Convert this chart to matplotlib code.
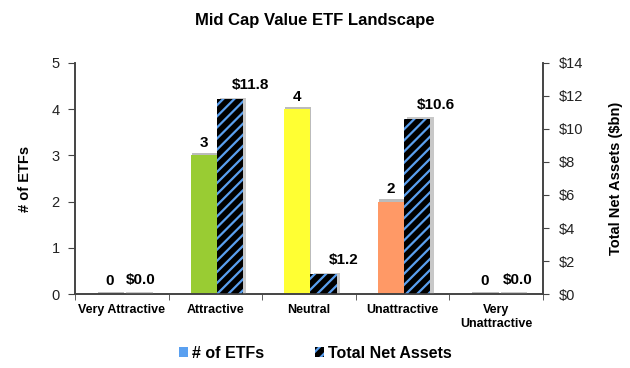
import numpy as np
import matplotlib.pyplot as plt
from matplotlib.patches import Patch

plt.rcParams['font.family'] = ['Liberation Sans', 'DejaVu Sans']
plt.rcParams['hatch.linewidth'] = 1.6

# data
categories = ['Very Attractive', 'Attractive', 'Neutral', 'Unattractive', 'Very\nUnattractive']
num_etfs = [0, 3, 4, 2, 0]
net_assets = [0.0, 11.8, 1.2, 10.6, 0.0]
bar_colors = ['#99CC33', '#99CC33', '#FFFF33', '#FF9966', '#99CC33']

fig = plt.figure(figsize=(6.3, 3.68), dpi=100)
ax = fig.add_axes([0.119, 0.201, 0.743, 0.628])
ax2 = ax.twinx()

x = np.arange(len(categories))
w = 0.28
off1, off2 = -0.125, 0.155

# count bars with a gray shadow strip on top
ax.bar(x + off1 + 0.01, np.array(num_etfs) + 0.05, w, color='#BBBBBB', zorder=1)
ax.bar(x + off1, num_etfs, w, color=bar_colors, zorder=2)

# asset bars (hatched) with gray shadow
ax2.bar(x + off2 + 0.035, np.array(net_assets) + 0.1, w, color='#C8C8C8', zorder=1)
ax2.bar(x + off2, net_assets, w, color='black', edgecolor='#5AA0F0',
        hatch='///', linewidth=0, zorder=2)

ax.set_xlim(-0.5, 4.5)
ax.set_ylim(0, 5)
ax2.set_ylim(0, 14)
ax.set_yticks(range(6))
ax2.set_yticks(range(0, 15, 2))
ax2.set_yticklabels(['$%d' % v for v in range(0, 15, 2)])

ax.set_xticks(x)
ax.set_xticklabels(categories, fontweight='bold', fontsize=9)
ax.set_xticks(np.arange(-0.5, 5, 1), minor=True)
ax.tick_params(axis='x', which='major', length=0, pad=7)
ax.tick_params(axis='x', which='minor', length=4, direction='out', color='#444444')
ax.tick_params(axis='y', labelsize=10.5, length=5, pad=6, color='#444444', colors='#222222')
ax2.tick_params(axis='y', labelsize=10.5, length=4, pad=7, color='#444444', colors='#222222')

for a in (ax, ax2):
    a.spines['top'].set_visible(False)
    for s in ('left', 'right', 'bottom'):
        a.spines[s].set_color('#444444')
        a.spines[s].set_linewidth(1.2)

ax.set_ylabel('# of ETFs', fontweight='bold', fontsize=10.5, labelpad=14)
ax2.set_ylabel('Total Net Assets ($bn)', fontweight='bold', fontsize=10.5, labelpad=19)
fig.suptitle('Mid Cap Value ETF Landscape', fontweight='bold', fontsize=12, y=0.965)

for i, v in enumerate(num_etfs):
    ax.text(x[i] + off1, v + 0.12, str(v), ha='center', va='bottom',
            fontweight='bold', fontsize=11, zorder=5)

label_shift = [0.05, 0.22, 0.22, 0.2, 0.07]
for i, v in enumerate(net_assets):
    ax2.text(x[i] + off2 + label_shift[i], v + 0.45, '$%.1f' % v, ha='center', va='bottom',
             fontweight='bold', fontsize=11, zorder=5)

# legend
handles = [Patch(facecolor='#5AA0F0', label='# of ETFs'),
           Patch(facecolor='black', edgecolor='#5AA0F0', hatch='///', linewidth=0,
                 label='Total Net Assets')]
fig.legend(handles=handles, loc='lower center', ncol=2, frameon=False,
           bbox_to_anchor=(0.5, -0.02), prop={'weight': 'bold', 'size': 11.5},
           handlelength=0.6, handleheight=0.6, columnspacing=3.2, handletextpad=0.2)

fig.savefig('out.png', dpi=100)
